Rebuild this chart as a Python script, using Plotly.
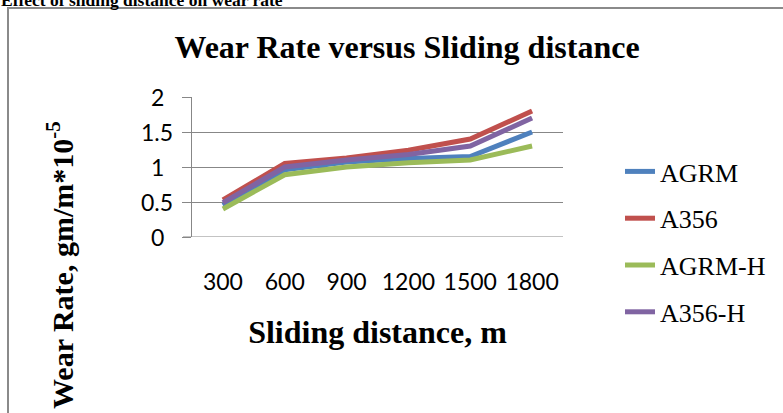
import plotly.graph_objects as go

# ---- data ----
distances = ["300", "600", "900", "1200", "1500", "1800"]
agrm = [0.45, 0.96, 1.07, 1.12, 1.15, 1.5]
a356 = [0.53, 1.05, 1.13, 1.24, 1.4, 1.8]
agrm_h = [0.4, 0.89, 1.0, 1.06, 1.1, 1.3]
a356_h = [0.49, 1.0, 1.1, 1.18, 1.3, 1.7]
series_names = ["AGRM", "A356", "AGRM-H", "A356-H"]
y_tick_vals = [0, 0.5, 1, 1.5, 2]
y_tick_text = ["0", "0.5", "1", "1.5", "2"]

colors = ["#4F81BD", "#C0504D", "#9BBB59", "#8064A2"]
W, H = 783, 413
L, R, T, B = 192, 563, 97, 237  # plot area in pixels


def px_x(p):
    return (p - L) / (R - L)


def px_y(p):
    return (B - p) / (B - T)


serif = "Liberation Serif, Times New Roman, serif"
sans = "Lato, Carlito, Calibri, sans-serif"

fig = go.Figure()
for i, (name, vals) in enumerate(zip(series_names, [agrm, a356, agrm_h, a356_h])):
    fig.add_trace(go.Scatter(
        x=distances, y=vals, name=name, mode="lines",
        line=dict(color=colors[i], width=5),
        legendgroup=name, hoverinfo="skip",
    ))

annotations = []
# y tick labels (centred like the original)
for v, t in zip(y_tick_vals, y_tick_text):
    annotations.append(dict(
        x=px_x(157), xref="paper", y=v, yref="y", text=t, showarrow=False,
        xanchor="center", yanchor="middle", font=dict(family=sans, size=23, color="#000")))
# y axis title
annotations.append(dict(
    x=px_x(60), xref="paper", y=px_y(265), yref="paper",
    text="<b>Wear Rate, gm/m*10<sup>-5</sup></b>", textangle=-90, showarrow=False,
    xanchor="center", yanchor="middle", font=dict(family=serif, size=30, color="#000")))
# caption above the frame (cut by the page top, as in the original)
annotations.append(dict(
    x=px_x(-1), xref="paper", y=px_y(12), yref="paper",
    text="<b>Effect of sliding distance on wear rate</b>", showarrow=False,
    xanchor="left", yanchor="bottom", font=dict(family=serif, size=17.5, color="#000")))

fig.update_layout(
    width=W, height=H,
    margin=dict(l=L, r=W - R, t=T, b=H - B, pad=0, autoexpand=False),
    paper_bgcolor="white", plot_bgcolor="white",
    title=dict(text="<b>Wear Rate versus Sliding distance</b>",
               x=407 / W, xanchor="center", y=1 - 47 / H, yanchor="middle",
               font=dict(family=serif, size=32, color="#000")),
    xaxis=dict(
        type="category", range=[-0.5, 5.5], showgrid=False, zeroline=False,
        showline=False, ticks="", tickfont=dict(family=sans, size=23, color="#000"),
        ticklabelstandoff=29, automargin=False,
        title=dict(text="<b>Sliding distance, m</b>", standoff=26,
                   font=dict(family=serif, size=32, color="#000")),
    ),
    yaxis=dict(
        range=[0, 2], tickvals=y_tick_vals, showticklabels=False, automargin=False,
        showgrid=True, gridcolor="#878787", gridwidth=1,
        zeroline=False, showline=True, linecolor="#878787", linewidth=1,
        ticks="outside", ticklen=9, tickcolor="#878787", tickwidth=1,
    ),
    legend=dict(
        x=px_x(620), y=px_y(148), xanchor="left", yanchor="top",
        traceorder="grouped", tracegroupgap=10, maxheight=400,
        font=dict(family=serif, size=26, color="#000"),
        bgcolor="rgba(0,0,0,0)",
    ),
    shapes=[dict(type="rect", xref="paper", yref="paper",
                 x0=px_x(8), y0=px_y(8), x1=px_x(900), y1=px_y(500),
                 line=dict(color="#8a8a8a", width=2), fillcolor="rgba(0,0,0,0)", layer="below")],
    annotations=annotations,
    showlegend=True,
    hovermode=False,
)
# bottom axis line (gridline at 0 extended like the original)
fig.add_shape(type="line", xref="paper", yref="y", x0=px_x(183), x1=1, y0=0, y1=0,
              line=dict(color="#878787", width=1), layer="below")

fig.write_html("out.html", config={"displayModeBar": False},
               post_script="document.body.style.margin='0';")
